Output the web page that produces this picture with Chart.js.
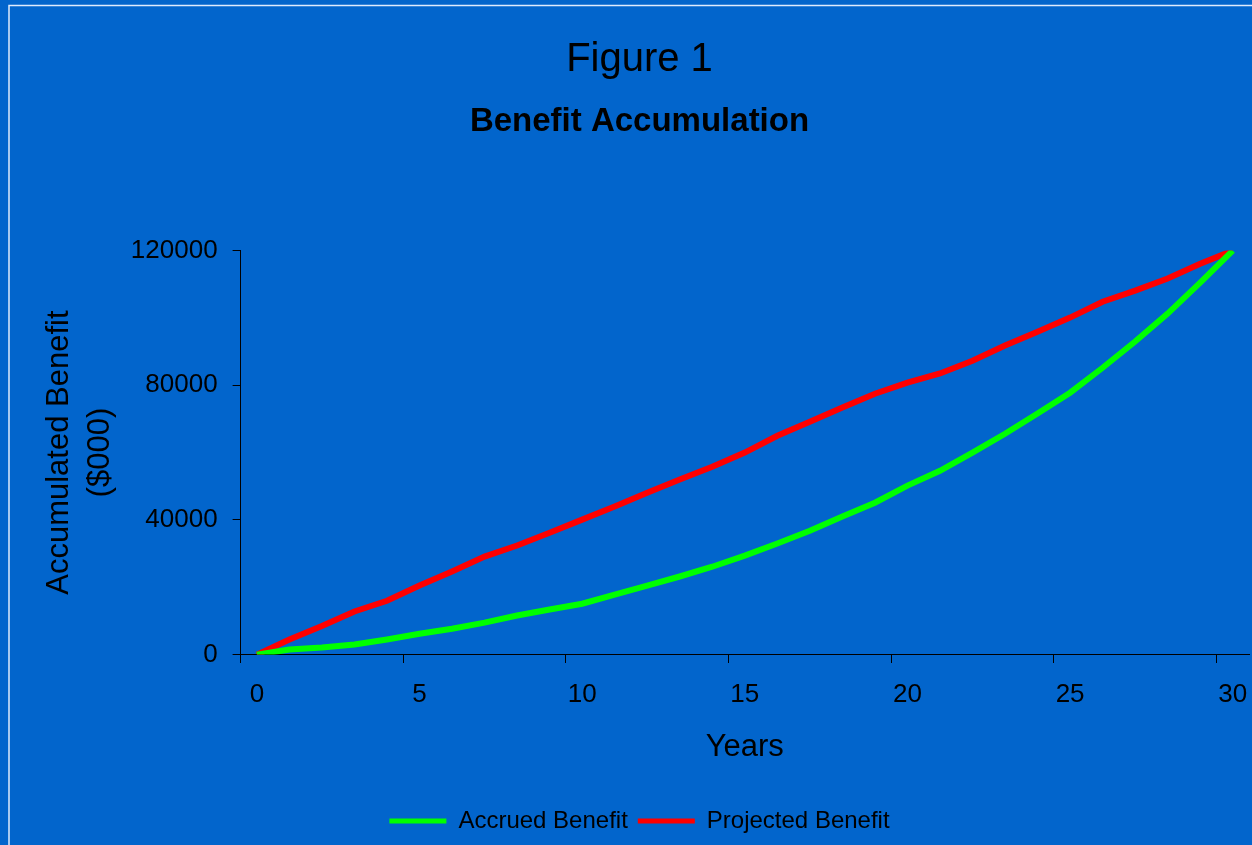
<!DOCTYPE html>
<html>
<head>
<meta charset="utf-8">
<script src="https://cdn.jsdelivr.net/npm/chart.js@4/dist/chart.umd.min.js"></script>
<style>
  html, body { margin: 0; padding: 0; background: #0265CC; }
  #wrap { width: 1252px; height: 845px; position: relative; }
</style>
</head>
<body>
<div id="wrap"><canvas id="c" width="1252" height="845"></canvas></div>
<script>
const years = ["0","1","2","3","4","5","6","7","8","9","10","11","12","13","14","15","16","17","18","19","20","21","22","23","24","25","26","27","28","29","30"];
const accruedBenefit = [0, 1500, 2100, 3000, 4500, 6200, 7700, 9500, 11600, 13400, 15100, 17800, 20500, 23200, 26100, 29400, 33000, 36800, 41000, 45100, 50200, 54600, 60000, 65600, 71600, 77800, 85200, 93000, 101300, 110500, 120000];
const projectedBenefit = [0, 4500, 8500, 12800, 16000, 20500, 24700, 29100, 32400, 36200, 40100, 44000, 48100, 52000, 55800, 60000, 65000, 69200, 73400, 77500, 80800, 83500, 87300, 91800, 95900, 100100, 104800, 108100, 111700, 116100, 120000];
const yTicks = [0, 40000, 80000, 120000];

const FONT = "'Liberation Sans', Arial, sans-serif";

const framePlugin = {
  id: 'frame',
  beforeDraw(chart) {
    const ctx = chart.ctx;
    ctx.save();
    ctx.fillStyle = '#0265CC';
    ctx.fillRect(0, 0, chart.width, chart.height);
    ctx.strokeStyle = 'rgba(235,242,255,0.95)';
    ctx.lineWidth = 1.5;
    ctx.beginPath();
    ctx.moveTo(9, chart.height + 2);
    ctx.lineTo(9, 5.5);
    ctx.lineTo(chart.width + 2, 5.5);
    ctx.stroke();
    ctx.restore();
  }
};

new Chart(document.getElementById('c'), {
  type: 'line',
  data: {
    labels: years,
    datasets: [
      { label: 'Accrued Benefit', data: accruedBenefit, borderColor: '#00FF00', backgroundColor: '#00FF00', borderWidth: 6, pointRadius: 0, tension: 0 },
      { label: 'Projected Benefit', data: projectedBenefit, borderColor: '#FF0000', backgroundColor: '#FF0000', borderWidth: 6, pointRadius: 0, tension: 0 }
    ]
  },
  options: {
    responsive: false,
    animation: false,
    layout: { padding: { left: 30, right: 3, top: 0, bottom: 2 } },
    plugins: {
      title: { display: true, text: 'Figure 1', color: '#000', font: { family: FONT, size: 40, weight: 'normal', lineHeight: 1.2 }, padding: { top: 36, bottom: 0 } },
      subtitle: { display: true, text: 'Benefit Accumulation', color: '#000', font: { family: FONT, size: 33, weight: 'bold', lineHeight: 1.2 }, padding: { top: 18, bottom: 109 } },
      legend: {
        position: 'bottom',
        labels: {
          color: '#000',
          font: { family: FONT, size: 24 },
          boxWidth: 57,
          boxHeight: 5,
          padding: 10,
          generateLabels: (chart) => Chart.defaults.plugins.legend.labels.generateLabels(chart).map(l => Object.assign(l, { lineWidth: 0 }))
        }
      },
      tooltip: { enabled: false }
    },
    scales: {
      x: {
        type: 'category',
        offset: true,
        border: { display: true, color: '#000', width: 1 },
        grid: {
          offset: true,
          drawOnChartArea: false,
          drawTicks: true,
          tickLength: 25,
          tickBorderDash: [8, 60],
          color: (ctx) => (ctx.index % 5 === 0 && ctx.index <= 30) ? '#000' : 'rgba(0,0,0,0)'
        },
        ticks: {
          autoSkip: false,
          maxRotation: 0,
          color: '#000',
          font: { family: FONT, size: 26 },
          padding: 0,
          callback: function(v, i) { return i % 5 === 0 ? years[i] : ''; }
        },
        title: { display: true, text: 'Years', color: '#000', font: { family: FONT, size: 31 }, padding: { top: 18, bottom: 33 } }
      },
      y: {
        min: 0,
        max: 120000,
        afterBuildTicks: (axis) => { axis.ticks = yTicks.map(v => ({ value: v })); },
        border: { display: true, color: '#000', width: 1 },
        grid: { drawOnChartArea: false, drawTicks: true, tickLength: 8, color: '#000' },
        ticks: { color: '#000', font: { family: FONT, size: 26 }, padding: 15, callback: (v) => String(v) },
        title: { display: true, text: ['Accumulated Benefit', '($000)'], color: '#000', font: { family: FONT, size: 31, lineHeight: 1.32 }, padding: { top: 9, bottom: -5 } }
      }
    }
  },
  plugins: [framePlugin]
});
</script>
</body>
</html>
